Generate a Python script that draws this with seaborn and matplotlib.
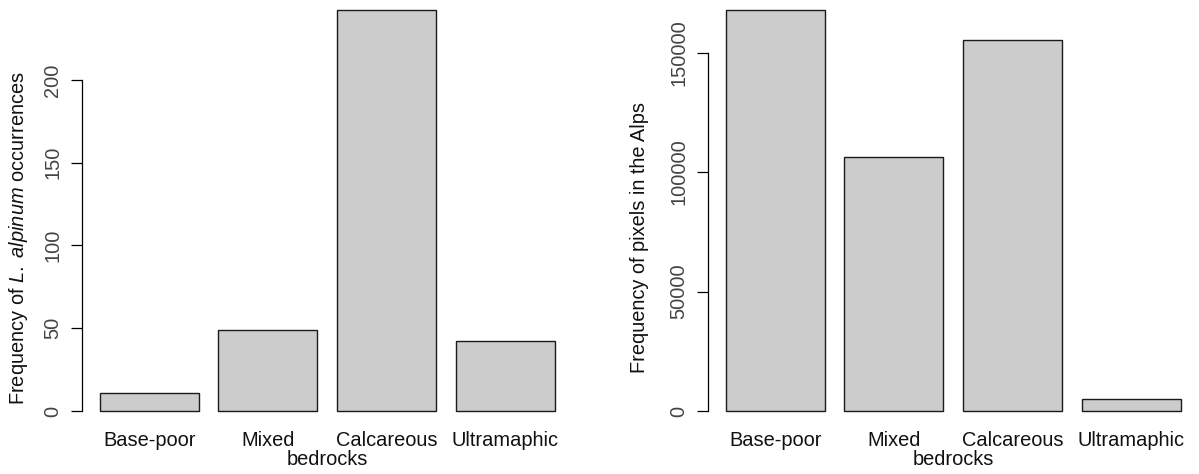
import seaborn as sns
import matplotlib.pyplot as plt
import numpy as np

# data
bedrocks = ['Base-poor', 'Mixed', 'Calcareous', 'Ultramaphic']
occurrences = [11, 49, 242, 42]
pixels = [167700, 106400, 155400, 5200]
ticks_occ = [0, 50, 100, 150, 200]
ticks_pix = [0, 50000, 100000, 150000]

sns.set_style('white')
plt.rcParams['font.family'] = ['Liberation Sans', 'DejaVu Sans']
plt.rcParams['mathtext.fontset'] = 'custom'
plt.rcParams['mathtext.rm'] = 'Liberation Sans'
plt.rcParams['mathtext.it'] = 'Liberation Sans:italic'

fs = 14.4
fig = plt.figure(figsize=(11.99, 4.74), dpi=100)
ax1 = fig.add_axes([0.0680, 0.0992, 0.4097, 0.9127])
ax2 = fig.add_axes([0.5902, 0.0992, 0.4097, 0.9127])


def rbar(ax, vals, ticks, ylab, lab_x):
    sns.barplot(x=bedrocks, y=vals, ax=ax, color='#cccccc', saturation=1,
                edgecolor='#1a1a1a', linewidth=1.0, width=1 / 1.2)
    mx = max(vals)
    ax.set_xlim(-0.57, 3.57)
    ax.set_ylim(-0.04 * mx, 1.04 * mx)
    for s in ['top', 'right', 'bottom']:
        ax.spines[s].set_visible(False)
    ax.spines['left'].set_bounds(ticks[0], ticks[-1])
    ax.spines['left'].set_color('black')
    ax.spines['left'].set_linewidth(0.9)
    ax.set_yticks(ticks)
    ax.set_yticklabels([str(t) for t in ticks], rotation=90, va='center',
                       fontsize=fs, color='#444444')
    ax.tick_params(axis='y', left=True, length=8, width=0.9, pad=6,
                   color='black')
    ax.tick_params(axis='x', length=0, pad=3, labelsize=fs, labelcolor='#111111')
    ax.set_xlabel('bedrocks', fontsize=fs, labelpad=0, color='#111111')
    ax.set_ylabel(ylab, fontsize=fs, va='center', color='#111111')
    ax.yaxis.set_label_coords(lab_x, 0.437)
    ax.grid(False)


rbar(ax1, occurrences, ticks_occ,
     r'Frequency of $\mathit{L.}$ $\mathit{alpinum}$ occurrences', -0.128)
rbar(ax2, pixels, ticks_pix, 'Frequency of pixels in the Alps', -0.138)

fig.savefig('out.png', dpi=100)
